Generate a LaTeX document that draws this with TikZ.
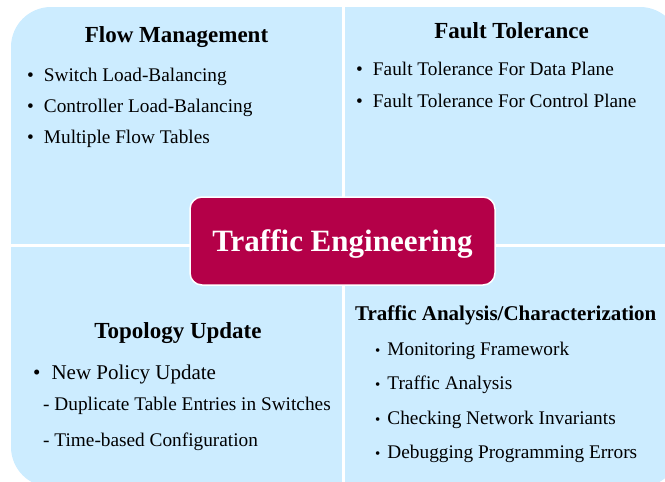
\documentclass[tikz,border=0pt]{standalone}
\usepackage{fontspec}
\setmainfont{Liberation Serif}
\definecolor{paleblue}{RGB}{204,236,255}
\definecolor{crimson}{RGB}{180,0,72}
\begin{document}
\begin{tikzpicture}[x=1pt,y=-1pt]
        \tikzstyle{title}=[anchor=base, inner sep=0pt, font=\bfseries\fontsize{23}{26}\selectfont]
        \tikzstyle{item}=[anchor=base west, inner sep=0pt, font=\fontsize{19.3}{22}\selectfont]
        \tikzstyle{centre}=[rectangle, rounded corners=12pt, fill=crimson, draw=white, line width=1.5pt,
            minimum width=305pt, minimum height=88pt, text depth=0pt, text=white, font=\bfseries\fontsize{31}{34}\selectfont]

        \useasboundingbox (0,0) rectangle (665,482);
        \clip (0,0) rectangle (665,482);

        % quadrants
        \fill[paleblue, rounded corners=40pt] (11,7) rectangle (680,487);
        \draw[white, line width=2.5pt] (343.3,0) -- (343.3,482);
        \draw[white, line width=2.5pt] (0,245.5) -- (665,245.5);

        % flow management
        \node[title] (flow) at (176.5,42) {Flow Management};
        \node[item] (flow1) at (27,81)  {\textbullet\hspace{10pt}Switch Load-Balancing};
        \node[item] (flow2) at (27,112) {\textbullet\hspace{10pt}Controller Load-Balancing};
        \node[item] (flow3) at (27,143) {\textbullet\hspace{10pt}Multiple Flow Tables};

        % fault tolerance
        \node[title] (fault) at (511.5,38) {Fault Tolerance};
        \node[item] (fault1) at (356,75)  {\textbullet\hspace{10pt}Fault Tolerance For Data Plane};
        \node[item] (fault2) at (356,107) {\textbullet\hspace{10pt}Fault Tolerance For Control Plane};

        % topology update
        \node[title] (topo) at (178,338) {Topology Update};
        \node[item, font=\fontsize{21}{24}\selectfont] (topo1) at (33,379) {\textbullet\hspace{11pt}New Policy Update};
        \node[item] (topo2) at (43,410) {- Duplicate Table Entries in Switches};
        \node[item] (topo3) at (43,446) {- Time-based Configuration};

        % traffic analysis
        \node[title, anchor=base west, font=\bfseries\fontsize{21}{24}\selectfont] (ana) at (355,320) {Traffic Analysis/Characterization};
        \node[item] (ana1) at (375,355) {{\fontsize{15}{15}\selectfont\textbullet}\hspace{7pt}Monitoring Framework};
        \node[item] (ana2) at (375,389) {{\fontsize{15}{15}\selectfont\textbullet}\hspace{7pt}Traffic Analysis};
        \node[item] (ana3) at (375,424) {{\fontsize{15}{15}\selectfont\textbullet}\hspace{7pt}Checking Network Invariants};
        \node[item] (ana4) at (375,458) {{\fontsize{15}{15}\selectfont\textbullet}\hspace{7pt}Debugging Programming Errors};

        \node[centre] (te) at (342.5,241) {Traffic Engineering};
    \end{tikzpicture}
\end{document}
